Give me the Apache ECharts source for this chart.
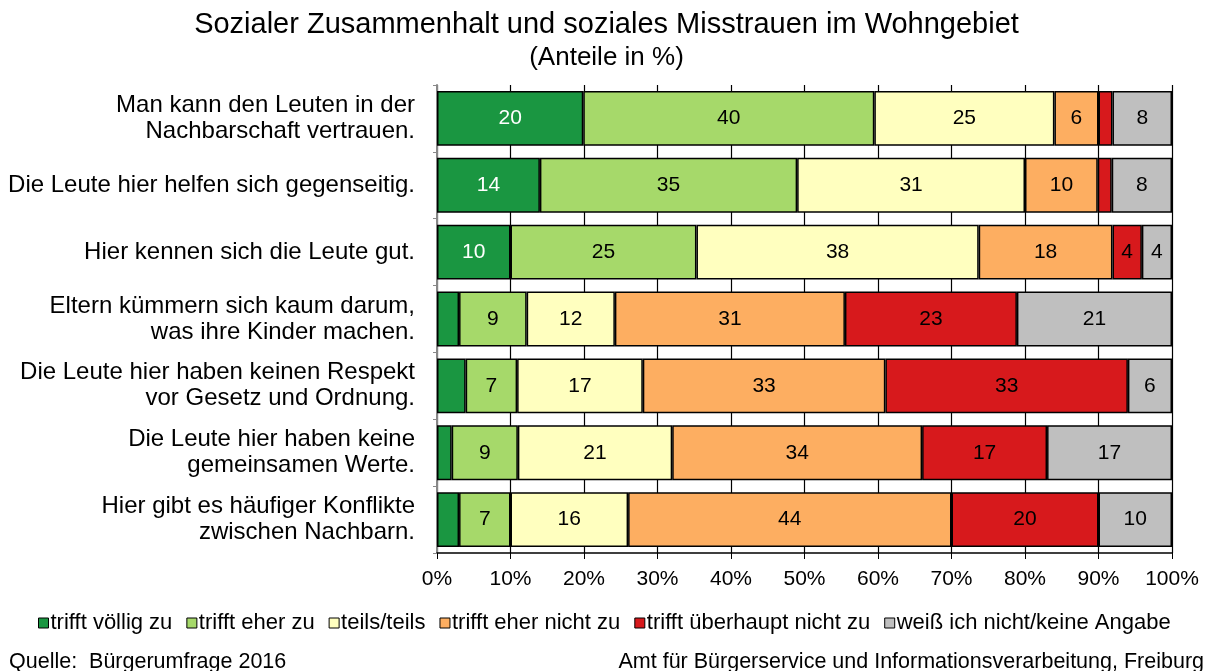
<!DOCTYPE html>
<html>
<head>
<meta charset="utf-8">
<script src="https://cdn.jsdelivr.net/npm/echarts@6/dist/echarts.min.js"></script>
<style>
  html, body { margin: 0; padding: 0; background: #fff; }
  #chart { width: 1213px; height: 671px; }
</style>
</head>
<body>
<div id="chart"></div>
<script>
// Aussagen (von oben nach unten)
const categories = [
  'Man kann den Leuten in der\nNachbarschaft vertrauen.',
  'Die Leute hier helfen sich gegenseitig.',
  'Hier kennen sich die Leute gut.',
  'Eltern kümmern sich kaum darum,\nwas ihre Kinder machen.',
  'Die Leute hier haben keinen Respekt\nvor Gesetz und Ordnung.',
  'Die Leute hier haben keine\ngemeinsamen Werte.',
  'Hier gibt es häufiger Konflikte\nzwischen Nachbarn.'
];

const seriesNames = [
  'trifft völlig zu',
  'trifft eher zu',
  'teils/teils',
  'trifft eher nicht zu',
  'trifft überhaupt nicht zu',
  'weiß ich nicht/keine Angabe'
];

// Anteile in % (kleine, unbeschriftete Segmente aus dem Bild geschätzt)
const trifftVoellig   = [19.9, 14,   10,   3,    3.9,  2,  3];
const trifftEher      = [39.6, 35,   25.3, 9.2,  7,    9,  7];
const teilsTeils      = [24.5, 31,   38.4, 12,   17.1, 21, 16];
const eherNicht       = [6.0,  9.9,  18.2, 31.3, 33,   34, 44];
const ueberhauptNicht = [1.9,  1.9,  4,    23.4, 33,   17, 20];
const keineAngabe     = [8.1,  8.2,  4.1,  21.1, 6,    17, 10];

// Segmente unter diesem Wert bleiben ohne Zahl
const labelMin = 4;

const colors = ['#1a9641', '#a6d96a', '#ffffbf', '#fdae61', '#d7191c', '#bfbfbf'];
const allData = [trifftVoellig, trifftEher, teilsTeils, eherNicht, ueberhauptNicht, keineAngabe];

const font = 'Liberation Sans, Arial, sans-serif';

const chart = echarts.init(document.getElementById('chart'));

const series = allData.map((d, i) => ({
  name: seriesNames[i],
  type: 'bar',
  stack: 'total',
  barCategoryGap: '18%',
  data: d,
  itemStyle: { color: colors[i], borderColor: '#000', borderWidth: 1.5 },
  label: {
    show: true,
    position: 'inside',
    fontFamily: font,
    fontSize: 21,
    color: i === 0 ? '#fff' : '#000',
    formatter: p => (p.value >= labelMin ? Math.round(p.value) : '')
  }
}));

chart.setOption({
  animation: false,
  textStyle: { fontFamily: font },
  title: [
    {
      text: 'Sozialer Zusammenhalt und soziales Misstrauen im Wohngebiet',
      left: 'center', top: 5,
      textStyle: { fontFamily: font, fontSize: 29, fontWeight: 'normal', color: '#000' }
    },
    {
      text: '(Anteile in %)',
      left: 'center', top: 40,
      textStyle: { fontFamily: font, fontSize: 26, fontWeight: 'normal', color: '#000' }
    },
    {
      text: 'Quelle:  Bürgerumfrage 2016',
      left: 4, top: 646,
      textStyle: { fontFamily: font, fontSize: 21.5, fontWeight: 'normal', color: '#000' }
    },
    {
      text: 'Amt für Bürgerservice und Informationsverarbeitung, Freiburg',
      right: 4, top: 646,
      textStyle: { fontFamily: font, fontSize: 21.5, fontWeight: 'normal', color: '#000' }
    }
  ],
  legend: {
    data: seriesNames,
    left: 33, top: 607,
    icon: 'rect',
    itemWidth: 10, itemHeight: 10,
    itemGap: 14,
    itemStyle: { borderColor: '#000', borderWidth: 1 },
    textStyle: { fontFamily: font, fontSize: 22, color: '#000', padding: [0, 0, 0, -3] }
  },
  grid: { left: 437, right: 41, top: 85, bottom: 118 },
  xAxis: {
    type: 'value',
    min: 0, max: 100, interval: 10,
    axisLine: { show: true, lineStyle: { color: '#000', width: 1.5 } },
    axisTick: { show: true, length: 6, lineStyle: { color: '#000' } },
    splitLine: { show: true, lineStyle: { color: '#000', width: 1.2 } },
    axisLabel: { formatter: '{value}%', fontFamily: font, fontSize: 21, color: '#000', margin: 16 }
  },
  yAxis: {
    type: 'category',
    inverse: true,
    data: categories,
    axisLine: { show: true, lineStyle: { color: '#888', width: 2 } },
    axisTick: { show: true, length: 4, lineStyle: { color: '#888' } },
    axisLabel: {
      fontFamily: font, fontSize: 24, color: '#000', margin: 22,
      lineHeight: 26, align: 'right'
    }
  },
  series: series
});
</script>
</body>
</html>
